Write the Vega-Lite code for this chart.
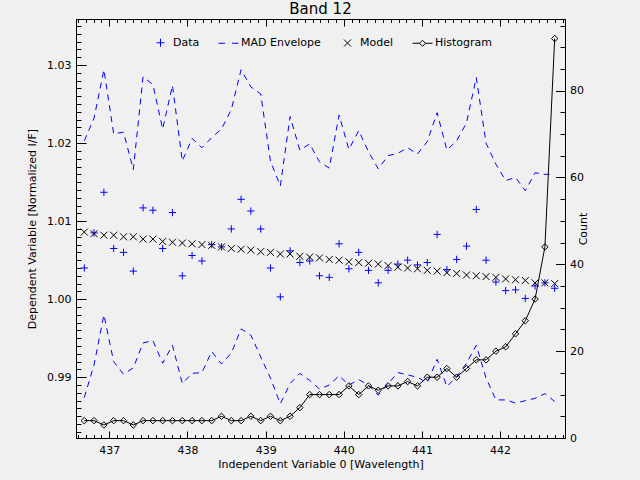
{
  "$schema": "https://vega.github.io/schema/vega-lite/v6.json",
  "width": 489,
  "height": 419,
  "autosize": {"type": "none"},
  "padding": {"left": 76, "top": 19, "right": 75, "bottom": 42},
  "background": "#f0f0f0",
  "title": {"text": "Band 12", "font": "DejaVu Sans", "fontSize": 15, "fontWeight": "normal", "color": "black", "offset": 2},
  "data": {
    "values": [
      {"wl": 436.680, "data": 1.0040, "model": 1.0086, "upper": 1.0203, "lower": 0.9874, "count": 4},
      {"wl": 436.805, "data": 1.0085, "model": 1.0084, "upper": 1.0232, "lower": 0.9916, "count": 4},
      {"wl": 436.931, "data": 1.0137, "model": 1.0082, "upper": 1.0294, "lower": 0.9980, "count": 3},
      {"wl": 437.056, "data": 1.0065, "model": 1.0082, "upper": 1.0212, "lower": 0.9920, "count": 4},
      {"wl": 437.182, "data": 1.0060, "model": 1.0080, "upper": 1.0214, "lower": 0.9904, "count": 4},
      {"wl": 437.307, "data": 1.0036, "model": 1.0080, "upper": 1.0166, "lower": 0.9912, "count": 3},
      {"wl": 437.432, "data": 1.0117, "model": 1.0077, "upper": 1.0285, "lower": 0.9944, "count": 4},
      {"wl": 437.558, "data": 1.0114, "model": 1.0077, "upper": 1.0275, "lower": 0.9947, "count": 4},
      {"wl": 437.683, "data": 1.0065, "model": 1.0074, "upper": 1.0218, "lower": 0.9918, "count": 4},
      {"wl": 437.808, "data": 1.0111, "model": 1.0073, "upper": 1.0274, "lower": 0.9941, "count": 4},
      {"wl": 437.934, "data": 1.0030, "model": 1.0072, "upper": 1.0177, "lower": 0.9892, "count": 4},
      {"wl": 438.059, "data": 1.0056, "model": 1.0071, "upper": 1.0206, "lower": 0.9905, "count": 4},
      {"wl": 438.185, "data": 1.0049, "model": 1.0070, "upper": 1.0194, "lower": 0.9906, "count": 4},
      {"wl": 438.310, "data": 1.0070, "model": 1.0069, "upper": 1.0207, "lower": 0.9933, "count": 4},
      {"wl": 438.435, "data": 1.0067, "model": 1.0067, "upper": 1.0218, "lower": 0.9917, "count": 5},
      {"wl": 438.561, "data": 1.0090, "model": 1.0065, "upper": 1.0243, "lower": 0.9931, "count": 4},
      {"wl": 438.686, "data": 1.0128, "model": 1.0064, "upper": 1.0294, "lower": 0.9962, "count": 4},
      {"wl": 438.811, "data": 1.0113, "model": 1.0063, "upper": 1.0272, "lower": 0.9954, "count": 5},
      {"wl": 438.937, "data": 1.0090, "model": 1.0061, "upper": 1.0263, "lower": 0.9926, "count": 4},
      {"wl": 439.062, "data": 1.0040, "model": 1.0060, "upper": 1.0177, "lower": 0.9899, "count": 5},
      {"wl": 439.188, "data": 1.0003, "model": 1.0058, "upper": 1.0145, "lower": 0.9866, "count": 4},
      {"wl": 439.313, "data": 1.0062, "model": 1.0058, "upper": 1.0234, "lower": 0.9892, "count": 5},
      {"wl": 439.438, "data": 1.0047, "model": 1.0055, "upper": 1.0191, "lower": 0.9905, "count": 7},
      {"wl": 439.564, "data": 1.0049, "model": 1.0054, "upper": 1.0199, "lower": 0.9896, "count": 10},
      {"wl": 439.689, "data": 1.0030, "model": 1.0053, "upper": 1.0176, "lower": 0.9885, "count": 10},
      {"wl": 439.814, "data": 1.0028, "model": 1.0051, "upper": 1.0168, "lower": 0.9890, "count": 10},
      {"wl": 439.940, "data": 1.0071, "model": 1.0050, "upper": 1.0236, "lower": 0.9902, "count": 10},
      {"wl": 440.065, "data": 1.0039, "model": 1.0048, "upper": 1.0192, "lower": 0.9890, "count": 12},
      {"wl": 440.191, "data": 1.0060, "model": 1.0047, "upper": 1.0216, "lower": 0.9897, "count": 10},
      {"wl": 440.316, "data": 1.0037, "model": 1.0046, "upper": 1.0189, "lower": 0.9890, "count": 12},
      {"wl": 440.441, "data": 1.0021, "model": 1.0045, "upper": 1.0167, "lower": 0.9877, "count": 11},
      {"wl": 440.567, "data": 1.0037, "model": 1.0043, "upper": 1.0184, "lower": 0.9892, "count": 12},
      {"wl": 440.692, "data": 1.0045, "model": 1.0041, "upper": 1.0187, "lower": 0.9906, "count": 12},
      {"wl": 440.817, "data": 1.0050, "model": 1.0040, "upper": 1.0194, "lower": 0.9903, "count": 13},
      {"wl": 440.943, "data": 1.0044, "model": 1.0039, "upper": 1.0186, "lower": 0.9900, "count": 12},
      {"wl": 441.068, "data": 1.0047, "model": 1.0037, "upper": 1.0202, "lower": 0.9893, "count": 14},
      {"wl": 441.194, "data": 1.0083, "model": 1.0036, "upper": 1.0239, "lower": 0.9923, "count": 14},
      {"wl": 441.319, "data": 1.0038, "model": 1.0034, "upper": 1.0191, "lower": 0.9888, "count": 16},
      {"wl": 441.444, "data": 1.0051, "model": 1.0033, "upper": 1.0203, "lower": 0.9901, "count": 14},
      {"wl": 441.570, "data": 1.0068, "model": 1.0031, "upper": 1.0226, "lower": 0.9918, "count": 16},
      {"wl": 441.695, "data": 1.0115, "model": 1.0030, "upper": 1.0284, "lower": 0.9941, "count": 18},
      {"wl": 441.820, "data": 1.0050, "model": 1.0029, "upper": 1.0200, "lower": 0.9899, "count": 18},
      {"wl": 441.946, "data": 1.0022, "model": 1.0028, "upper": 1.0173, "lower": 0.9871, "count": 20},
      {"wl": 442.071, "data": 1.0011, "model": 1.0026, "upper": 1.0152, "lower": 0.9871, "count": 21},
      {"wl": 442.197, "data": 1.0012, "model": 1.0025, "upper": 1.0156, "lower": 0.9867, "count": 24},
      {"wl": 442.322, "data": 1.0001, "model": 1.0024, "upper": 1.0139, "lower": 0.9870, "count": 27},
      {"wl": 442.447, "data": 1.0017, "model": 1.0021, "upper": 1.0162, "lower": 0.9873, "count": 32},
      {"wl": 442.573, "data": 1.0021, "model": 1.0021, "upper": 1.0160, "lower": 0.9879, "count": 44},
      {"wl": 442.698, "data": 1.0014, "model": 1.0020, "upper": 1.0160, "lower": 0.9869, "count": 92}
    ]
  },
  "layer": [
    {
      "layer": [
        {
          "mark": {"type": "line", "color": "#0000ff", "strokeWidth": 1, "strokeDash": [6, 5]},
          "encoding": {
            "x": {
              "field": "wl", "type": "quantitative",
              "scale": {"domain": [436.574, 442.83], "nice": false, "zero": false},
              "axis": {
                "orient": "bottom",
                "title": "Independent Variable 0 [Wavelength]",
                "values": [437, 438, 439, 440, 441, 442],
                "format": "d",
                "tickSize": -7,
                "labelPadding": 13,
                "titlePadding": 3
              }
            },
            "y": {
              "field": "upper", "type": "quantitative",
              "scale": {"domain": [0.98222, 1.0359], "nice": false, "zero": false},
              "axis": {
                "orient": "left",
                "title": "Dependent Variable [Normalized I/F]",
                "values": [0.99, 1, 1.01, 1.02, 1.03],
                "format": ".2f",
                "tickSize": -10,
                "labelPadding": 15,
                "titlePadding": 9
              }
            }
          }
        },
        {
          "mark": {"type": "line", "color": "#0000ff", "strokeWidth": 1, "strokeDash": [6, 5]},
          "encoding": {
            "x": {
              "field": "wl", "type": "quantitative",
              "axis": {
                "orient": "bottom",
                "title": null,
                "labels": false,
                "domain": false,
                "values": [436.6,436.7,436.8,436.9,437.1,437.2,437.3,437.4,437.5,437.6,437.7,437.8,437.9,438.1,438.2,438.3,438.4,438.5,438.6,438.7,438.8,438.9,439.1,439.2,439.3,439.4,439.5,439.6,439.7,439.8,439.9,440.1,440.2,440.3,440.4,440.5,440.6,440.7,440.8,440.9,441.1,441.2,441.3,441.4,441.5,441.6,441.7,441.8,441.9,442.1,442.2,442.3,442.4,442.5,442.6,442.7,442.8],
                "tickSize": -3.5
              }
            },
            "y": {
              "field": "lower", "type": "quantitative",
              "axis": {
                "orient": "left",
                "title": null,
                "labels": false,
                "domain": false,
                "values": [0.983,0.984,0.985,0.986,0.987,0.988,0.989,0.991,0.992,0.993,0.994,0.995,0.996,0.997,0.998,0.999,1.001,1.002,1.003,1.004,1.005,1.006,1.007,1.008,1.009,1.011,1.012,1.013,1.014,1.015,1.016,1.017,1.018,1.019,1.021,1.022,1.023,1.024,1.025,1.026,1.027,1.028,1.029,1.031,1.032,1.033,1.034,1.035],
                "tickSize": -5
              }
            }
          }
        },
        {
          "mark": {"type": "point", "filled": false, "strokeWidth": 1, "size": 330, "opacity": 1},
          "encoding": {
            "x": {"field": "wl", "type": "quantitative", "axis": null},
            "y": {"field": "data", "type": "quantitative", "axis": null},
            "color": {
              "datum": "Data", "type": "nominal",
              "scale": {"domain": ["Data", "MAD Envelope", "Model", "Histogram"], "range": ["#0000ff", "#0000ff", "#000000", "#000000"]},
              "legend": {"title": null}
            },
            "shape": {
              "datum": "Data", "type": "nominal",
              "scale": {
                "domain": ["Data", "MAD Envelope", "Model", "Histogram"],
                "range": [
                  "M-0.4,0H0.4M0,-0.4V0.4",
                  "M-1,0H-0.35M0.35,0H1",
                  "M-0.35,-0.35L0.35,0.35M-0.35,0.35L0.35,-0.35",
                  "M-1,0H-0.3M0.3,0H1M0,-0.3L0.3,0L0,0.3L-0.3,0Z"
                ]
              },
              "legend": {"title": null}
            }
          }
        },
        {
          "mark": {"type": "point", "filled": false, "color": "black", "strokeWidth": 1, "size": 49, "opacity": 1, "shape": "M-1,-1L1,1M-1,1L1,-1"},
          "encoding": {
            "x": {"field": "wl", "type": "quantitative", "axis": null},
            "y": {"field": "model", "type": "quantitative", "axis": null}
          }
        }
      ],
      "resolve": {"axis": {"x": "independent", "y": "independent"}}
    },
    {
      "layer": [
        {
          "mark": {"type": "line", "color": "black", "strokeWidth": 1},
          "encoding": {
            "x": {
              "field": "wl", "type": "quantitative",
              "scale": {"domain": [436.574, 442.83], "nice": false, "zero": false},
              "axis": {
                "orient": "top",
                "title": null,
                "labels": false,
                "values": [437, 438, 439, 440, 441, 442],
                "tickSize": -7
              }
            },
            "y": {
              "field": "count", "type": "quantitative",
              "scale": {"domain": [0, 96.5], "nice": false, "zero": false},
              "axis": {
                "orient": "right",
                "title": "Count",
                "titleAngle": 270,
                "values": [0, 20, 40, 60, 80],
                "format": "d",
                "tickSize": -9.5,
                "labelPadding": 14,
                "titlePadding": 5
              }
            }
          }
        },
        {
          "mark": {"type": "point", "shape": "diamond", "filled": false, "color": "black", "strokeWidth": 1, "size": 42, "opacity": 1},
          "encoding": {
            "x": {
              "field": "wl", "type": "quantitative",
              "axis": {
                "orient": "top",
                "title": null,
                "labels": false,
                "domain": false,
                "values": [436.6,436.7,436.8,436.9,437.1,437.2,437.3,437.4,437.5,437.6,437.7,437.8,437.9,438.1,438.2,438.3,438.4,438.5,438.6,438.7,438.8,438.9,439.1,439.2,439.3,439.4,439.5,439.6,439.7,439.8,439.9,440.1,440.2,440.3,440.4,440.5,440.6,440.7,440.8,440.9,441.1,441.2,441.3,441.4,441.5,441.6,441.7,441.8,441.9,442.1,442.2,442.3,442.4,442.5,442.6,442.7,442.8],
                "tickSize": -3.5
              }
            },
            "y": {
              "field": "count", "type": "quantitative",
              "axis": {
                "orient": "right",
                "title": null,
                "labels": false,
                "domain": false,
                "values": [5,10,15,25,30,35,45,50,55,65,70,75,85,90,95],
                "tickSize": -5
              }
            }
          }
        }
      ],
      "resolve": {"axis": {"x": "independent", "y": "independent"}}
    }
  ],
  "resolve": {"scale": {"y": "independent"}, "axis": {"x": "independent", "y": "independent"}},
  "config": {
    "font": "DejaVu Sans",
    "view": {"stroke": "black", "strokeWidth": 1},
    "axis": {
      "grid": false,
      "domainColor": "black",
      "tickColor": "black",
      "labelColor": "black",
      "labelFont": "DejaVu Sans",
      "labelFontSize": 11,
      "labelOverlap": false,
      "labelFlush": false,
      "labelBound": false,
      "titleColor": "black",
      "titleFont": "DejaVu Sans",
      "titleFontSize": 11,
      "titleFontWeight": "normal"
    },
    "legend": {
      "orient": "none",
      "legendX": 74,
      "legendY": 13,
      "direction": "horizontal",
      "symbolSize": 400,
      "symbolStrokeWidth": 1,
      "labelFont": "DejaVu Sans",
      "labelFontSize": 11,
      "labelColor": "black",
      "labelOffset": 2,
      "columnPadding": 16,
      "padding": 0
    }
  }
}
